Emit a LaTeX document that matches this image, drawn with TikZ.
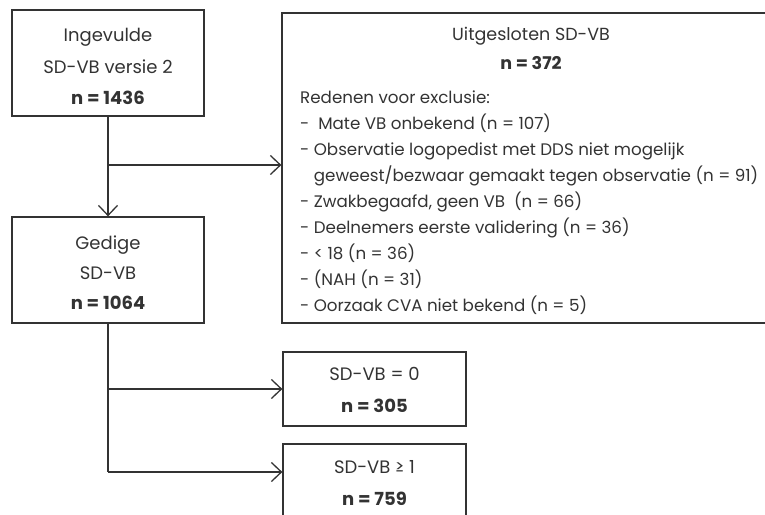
\documentclass[tikz,border=0pt]{standalone}
\usepackage{fontspec}
\setmainfont{Poppins}
\usetikzlibrary{arrows.meta,positioning}
\definecolor{lijn}{HTML}{333333}
\tikzset{
	blok/.style={draw=lijn,line width=1.3pt,inner sep=0pt},
	pijl/.style={draw=lijn,line width=1.3pt,-{Straight Barb[length=10pt,width=19pt,line width=1.3pt]}},
	tekst/.style={text=lijn,inner sep=0pt,align=center},
}
\begin{document}
\begin{tikzpicture}[x=1pt,y=-1pt,font=\fontsize{18}{31.5}\selectfont]
		\useasboundingbox (0,0) rectangle (765,514);
		\clip (0,0) rectangle (765,514);
		
		
		\node[blok,minimum width=192pt,minimum height=106pt] (ingevuld) at (108,63) {};
		\node[tekst] (ingevuldtekst) at (108,66.5) {Ingevulde\\SD-VB versie 2\\\textbf{n = 1436}};
		\node[blok,minimum width=192pt,minimum height=106pt] (gedige) at (108,270) {};
		\node[tekst,font=\fontsize{18}{30}\selectfont] (gedigetekst) at (108,273) {Gedige\\SD-VB\\\textbf{n = 1064}};
		
		\node[blok,minimum width=498pt,minimum height=310pt] (uitgesloten) at (531,168) {};
		\node[tekst,font=\fontsize{17.5}{29}\selectfont] (titel) at (531,48) {Uitgesloten SD-VB\\\textbf{n = 372}};
		\node[tekst,align=left,anchor=north west,font=\fontsize{16.7}{26}\selectfont] (redenen) at (300,91) {Redenen voor exclusie:\\
			-\ \ Mate VB onbekend (n = 107)\\
			- Observatie logopedist met DDS niet mogelijk\\
			\hphantom{- }geweest/bezwaar gemaakt tegen observatie (n = 91)\\
			- Zwakbegaafd, geen VB\ \ (n = 66)\\
			- Deelnemers eerste validering (n = 36)\\
			- < 18 (n = 36)\\
			- (NAH (n = 31)\\
			- Oorzaak CVA niet bekend (n = 5)};
		
		\node[blok,minimum width=183pt,minimum height=74pt] (nul) at (374.5,389) {};
		\node[tekst] (nultekst) at (374.5,390) {SD-VB = 0\\\textbf{n = 305}};
		\node[blok,minimum width=183pt,minimum height=74pt] (een) at (374.5,481) {};
		\node[tekst] (eentekst) at (374.5,483) {SD-VB ≥ 1\\\textbf{n = 759}};
		
		
		\draw[pijl] (ingevuld) -- (gedige);
		\coordinate (splits1) at (108,165);
		\draw[pijl] (splits1) -- (splits1 -| uitgesloten.west);
		
		\coordinate (splits2) at (108,389);
		\coordinate (hoek) at (108,472);
		\draw[draw=lijn,line width=1.3pt] (gedige.south) -- (hoek);
		\draw[pijl] (splits2) -- (nul.west);
		\draw[pijl] (hoek) -- (hoek -| een.west);
		
	\end{tikzpicture}
\end{document}
